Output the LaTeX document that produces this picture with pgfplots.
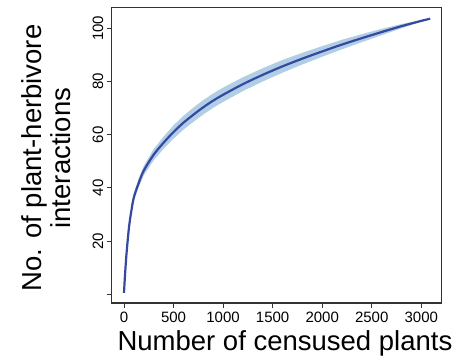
\documentclass[border=0pt]{standalone}
\usepackage{fontspec}
\setmainfont{Liberation Sans}
\usepackage{pgfplots}
\pgfplotsset{compat=1.18}
\usepgfplotslibrary{fillbetween}
\definecolor{linecol}{RGB}{55,72,160}
\definecolor{bandcol}{RGB}{176,206,228}
\begin{document}
\begin{tikzpicture}
\begin{axis}[
  at={(0pt,0pt)}, anchor=south west,
  scale only axis, width=330pt, height=295.7pt,
  xmin=-124, xmax=3206, ymin=-3.3, ymax=107.9,
  xtick={0,500,1000,1500,2000,2500,3000},
  ytick={0,20,40,60,80,100},
  yticklabels={,20,40,60,80,100},
  tick align=outside, tick pos=left,
  major tick length=5pt,
  axis line style={line width=1.2pt, black!80},
  every tick/.style={line width=0.9pt, black!80},
  /pgf/number format/assume math mode=true,
  /pgf/number format/set thousands separator={},
  ticklabel style={font=\fontsize{15}{18}\selectfont},
  yticklabel style={rotate=90, anchor=south},
  xlabel={Number of censused plants},
  ylabel={No. of plant-herbivore\\interactions},
  label style={font=\fontsize{27.5}{29}\selectfont},
  xlabel style={at={(axis description cs:0.525,-0.159)}, anchor=base},
  ylabel style={at={(axis description cs:-0.199,0.49)}, anchor=center, align=center, rotate=0},
]
\addplot[draw=none, name path=up] coordinates {
(0,0.5) (10,7.3) (25,15.6) (50,25.9) (75,32.6) (100,37.8) (150,43.6) (200,48.3)
(300,54.6) (400,59.3) (500,63.5) (600,67.1) (700,70.2) (800,73.0) (900,75.5)
(1000,77.7) (1200,81.6) (1400,85.0) (1600,88.1) (1800,90.8) (2000,93.3)
(2200,95.7) (2400,97.8) (2600,99.8) (2800,101.6) (3000,103.1) (3090,103.6)};
\addplot[draw=none, name path=lo] coordinates {
(0,0.5) (10,6.7) (25,14.4) (50,24.1) (75,30.4) (100,35.2) (150,40.4) (200,44.7)
(300,50.4) (400,54.7) (500,58.5) (600,61.9) (700,64.8) (800,67.6) (900,70.1)
(1000,72.3) (1200,76.4) (1400,80.0) (1600,83.3) (1800,86.4) (2000,89.3)
(2200,92.1) (2400,94.8) (2600,97.4) (2800,100.0) (3000,102.5) (3090,103.6)};
\addplot[bandcol] fill between[of=up and lo];
\addplot[linecol, line width=2.2pt, smooth] coordinates {
(0,0.5) (10,7) (25,15) (50,25) (75,31.5) (100,36.5) (150,42) (200,46.5)
(300,52.5) (400,57) (500,61) (600,64.5) (700,67.5) (800,70.3) (900,72.8)
(1000,75) (1200,79) (1400,82.5) (1600,85.7) (1800,88.6) (2000,91.3)
(2200,93.9) (2400,96.3) (2600,98.6) (2800,100.8) (3000,102.8) (3090,103.6)};
\end{axis}
\pgfresetboundingbox
\path[use as bounding box] (-111.7pt,-56pt) rectangle (360.3pt,303pt);
\end{tikzpicture}
\end{document}
